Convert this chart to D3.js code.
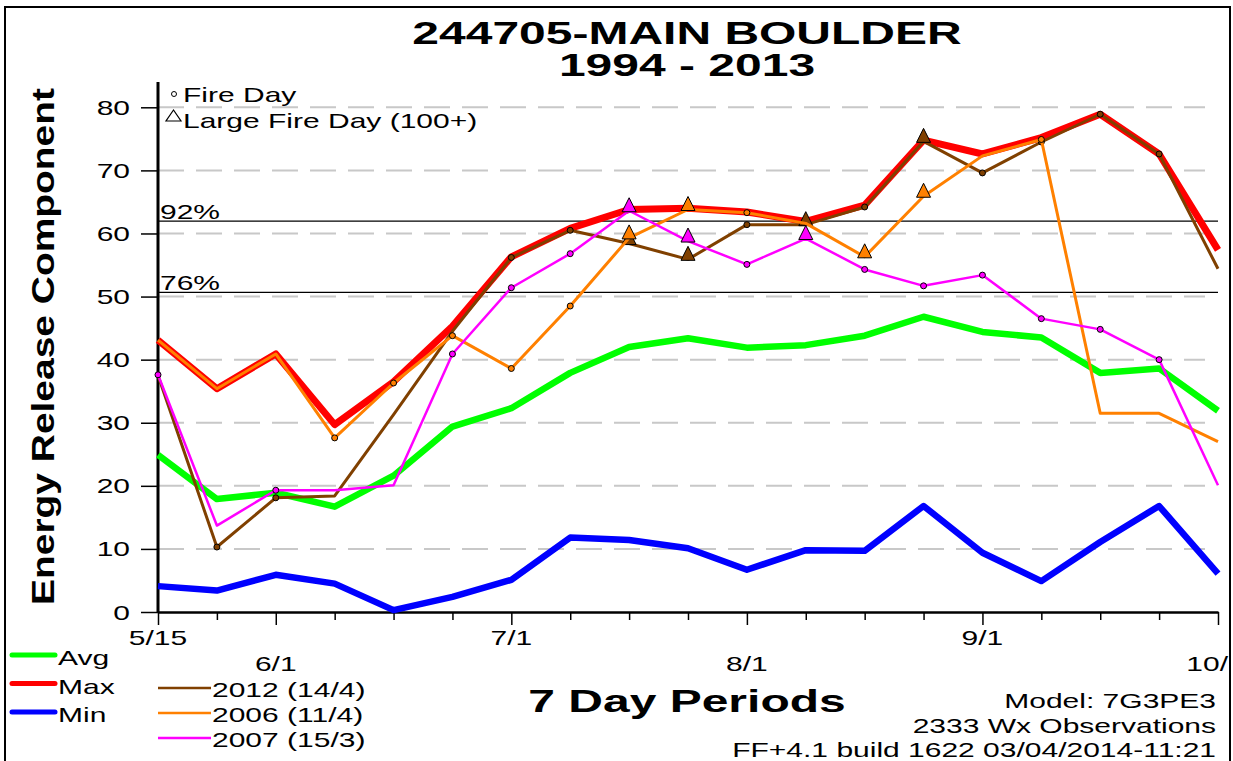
<!DOCTYPE html>
<html>
<head>
<meta charset="utf-8">
<script src="https://cdn.jsdelivr.net/npm/d3@7"></script>
<style>
  body { margin: 0; background: #fff; }
  svg { display: block; font-family: "Liberation Sans", Arial, sans-serif; }
</style>
</head>
<body>
<div class="chart"></div>
<script>
const width = 1233;
const height = 761;

// weekly periods, 5/15 .. 10/1
const periods = d3.range(19);
const monthLabels = [
  {i: 0, label: "5/15", row: 0},
  {i: 2, label: "6/1", row: 1},
  {i: 6, label: "7/1", row: 0},
  {i: 10, label: "8/1", row: 1},
  {i: 14, label: "9/1", row: 0},
  {i: 18, label: "10/", row: 1}
];
const yTicks = [0, 10, 20, 30, 40, 50, 60, 70, 80];

const avgVals = [24.9, 17.9, 18.9, 16.7, 21.6, 29.4, 32.3, 37.9, 42.0, 43.4, 41.9, 42.3, 43.8, 46.8, 44.4, 43.5, 37.9, 38.6, 31.9];
const maxVals = [43.1, 35.4, 40.9, 29.7, 36.5, 45.3, 56.3, 60.8, 63.8, 64.0, 63.4, 61.9, 64.5, 74.8, 72.6, 75.2, 78.9, 72.6, 57.4];
const minVals = [4.1, 3.4, 5.9, 4.5, 0.3, 2.4, 5.1, 11.8, 11.4, 10.1, 6.7, 9.8, 9.7, 16.8, 9.4, 4.9, 11.1, 16.8, 6.1];

const y2012 = [37.5, 10.3, 18.1, 18.4, 31.3, 44.5, 56.2, 60.5, 58.4, 55.9, 61.4, 61.4, 64.2, 74.6, 69.6, 74.5, 78.9, 72.6, 54.4];
const y2006 = [43.1, 35.4, 40.9, 27.6, 36.3, 43.8, 38.6, 48.5, 59.3, 63.8, 63.3, 61.6, 56.3, 65.9, 72.3, 74.9, 31.5, 31.5, 27.0];
const y2007 = [37.6, 13.7, 19.3, 19.3, 20.1, 40.9, 51.4, 56.8, 63.6, 58.8, 55.1, 59.2, 54.3, 51.7, 53.4, 46.5, 44.8, 40.0, 20.1];

// fire day / large fire day weeks (index into periods)
const fire2012 = [1, 2, 6, 7, 10, 12, 14, 15, 16, 17];
const large2012 = [8, 9, 11, 13];
const fire2006 = [3, 4, 5, 6, 7, 10, 15];
const large2006 = [8, 9, 12, 13];
const fire2007 = [0, 2, 5, 6, 7, 10, 12, 13, 14, 15, 16, 17];
const large2007 = [8, 9, 11];

const percentiles = [{label: "92%", value: 61.97}, {label: "76%", value: 50.67}];

const SX = 1.5; // text in the original is drawn wide

const svg = d3.select(".chart")
    .append("svg")
    .attr("width", width)
    .attr("height", height);

const x = d3.scalePoint().domain(periods).range([158, 1218]);
const y = d3.scaleLinear().domain([0, 80]).range([612, 107.3]);

function stext(g, px, py, str, size, anchor, weight) {
    return g.append("text")
        .attr("transform", `translate(${px},${py}) scale(${SX},1)`)
        .attr("text-anchor", anchor || "start")
        .style("font-size", size + "px")
        .style("font-weight", weight || "normal")
        .attr("fill", "#000")
        .text(str);
}

// frame
svg.append("rect")
    .attr("x", 5).attr("y", 7)
    .attr("width", 1225).attr("height", 770)
    .attr("fill", "none").attr("stroke", "#000").attr("stroke-width", 2);

// titles
stext(svg, 687, 44, "244705-MAIN BOULDER", 32, "middle", "bold");
stext(svg, 687, 76, "1994 - 2013", 32, "middle", "bold");

// grid
svg.append("g")
    .selectAll("line")
    .data(yTicks.filter(d => d > 0))
    .join("line")
    .attr("x1", x(0)).attr("x2", 1205)
    .attr("y1", d => y(d)).attr("y2", d => y(d))
    .attr("stroke", "#c8c8c8")
    .attr("stroke-width", 2)
    .attr("stroke-dasharray", "26,12");

// percentile lines
const pg = svg.append("g");
pg.selectAll("line")
    .data(percentiles)
    .join("line")
    .attr("x1", x(0)).attr("x2", x(18))
    .attr("y1", d => y(d.value)).attr("y2", d => y(d.value))
    .attr("stroke", "#000").attr("stroke-width", 1.2);
percentiles.forEach(p => stext(pg, 160, y(p.value) - 2, p.label, 20, "start"));

// y axis
const yAxis = svg.append("g")
    .attr("transform", `translate(${x(0)},0)`)
    .call(d3.axisLeft(y).tickValues(yTicks).tickSize(17).tickSizeOuter(0));
yAxis.select(".domain").remove();
yAxis.selectAll(".tick line").attr("stroke", "#000").attr("stroke-width", 1.5);
yAxis.selectAll(".tick text")
    .attr("x", -28 / SX)
    .attr("dy", "0.35em")
    .attr("transform", `scale(${SX},1)`)
    .style("font-size", "20px")
    .style("font-family", "'Liberation Sans', Arial, sans-serif")
    .attr("fill", "#000");
svg.append("line")
    .attr("x1", x(0)).attr("x2", x(0))
    .attr("y1", 82).attr("y2", y(0) + 1)
    .attr("stroke", "#000").attr("stroke-width", 3);

// x axis
const xAxis = svg.append("g")
    .attr("transform", `translate(0,${y(0)})`)
    .call(d3.axisBottom(x).tickSize(8).tickFormat("").tickSizeOuter(0));
xAxis.select(".domain").attr("stroke", "#000").attr("stroke-width", 2.5);
xAxis.selectAll(".tick line")
    .attr("stroke", "#000").attr("stroke-width", 1.5)
    .attr("y2", d => monthLabels.some(m => m.i === d) ? 13 : 8);

monthLabels.forEach(m => {
    const last = m.i === periods.length - 1;
    stext(svg, last ? 1228 : x(m.i), m.row === 0 ? 645 : 671, m.label, 20, last ? "end" : "middle");
});

// y title
svg.append("text")
    .attr("transform", "translate(54,346.5) rotate(-90)")
    .attr("text-anchor", "middle")
    .attr("textLength", 517)
    .attr("lengthAdjust", "spacingAndGlyphs")
    .style("font-size", "32px")
    .style("font-weight", "bold")
    .text("Energy Release Component");

// x title
stext(svg, 687, 712, "7 Day Periods", 32, "middle", "bold");

// series
const line = d3.line()
    .x((d, i) => x(i))
    .y(d => y(d));

const summary = [
    {name: "Avg", vals: avgVals, color: "#00ff00", w: 6.5},
    {name: "Max", vals: maxVals, color: "#ff0000", w: 7},
    {name: "Min", vals: minVals, color: "#0000ff", w: 6.5}
];
const years = [
    {name: "2012 (14/4)", vals: y2012, color: "#804000", w: 3, fire: fire2012, large: large2012},
    {name: "2006 (11/4)", vals: y2006, color: "#ff8000", w: 3, fire: fire2006, large: large2006},
    {name: "2007 (15/3)", vals: y2007, color: "#ff00ff", w: 2.5, fire: fire2007, large: large2007}
];

svg.append("g")
    .selectAll("path")
    .data(summary)
    .join("path")
    .attr("d", d => line(d.vals))
    .attr("fill", "none")
    .attr("stroke", d => d.color)
    .attr("stroke-width", d => d.w)
    .attr("stroke-linejoin", "round");

const tri = (cx, cy) => `M${cx - 7},${cy + 1}L${cx + 7},${cy + 1}L${cx},${cy - 13}Z`;

years.forEach(s => {
    const g = svg.append("g");
    g.append("path")
        .attr("d", line(s.vals))
        .attr("fill", "none")
        .attr("stroke", s.color)
        .attr("stroke-width", s.w)
        .attr("stroke-linejoin", "round");
    g.selectAll("circle")
        .data(s.fire)
        .join("circle")
        .attr("cx", i => x(i))
        .attr("cy", i => y(s.vals[i]))
        .attr("r", 3)
        .attr("fill", s.color)
        .attr("stroke", "#000")
        .attr("stroke-width", 1);
    g.selectAll("path.tri")
        .data(s.large)
        .join("path")
        .attr("class", "tri")
        .attr("d", i => tri(x(i), y(s.vals[i])))
        .attr("fill", s.color)
        .attr("stroke", "#000")
        .attr("stroke-width", 1);
});

// marker legend (top left)
const ml = svg.append("g");
ml.append("circle").attr("cx", 174).attr("cy", 94).attr("r", 2.5)
    .attr("fill", "#fff").attr("stroke", "#000").attr("stroke-width", 1);
stext(ml, 183, 102, "Fire Day", 20, "start");
ml.append("path").attr("d", "M166,121L181,121L173.5,110Z")
    .attr("fill", "#fff").attr("stroke", "#000").attr("stroke-width", 1.2);
stext(ml, 183, 128, "Large Fire Day (100+)", 20, "start");

// series legend (bottom left)
const lg = svg.append("g");
summary.forEach((s, k) => {
    const by = 665 + k * 28.5;
    lg.append("line")
        .attr("x1", 12).attr("x2", 55)
        .attr("y1", by - 10).attr("y2", by - 10)
        .attr("stroke", s.color).attr("stroke-width", 5)
        .attr("stroke-linecap", "round");
    stext(lg, 58, by, s.name, 20, "start");
});
years.forEach((s, k) => {
    const by = 697 + k * 25;
    lg.append("line")
        .attr("x1", 158).attr("x2", 211)
        .attr("y1", by - 9).attr("y2", by - 9)
        .attr("stroke", s.color).attr("stroke-width", 2.5);
    stext(lg, 212, by, s.name, 20, "start");
});

// run info (bottom right)
const info = ["Model: 7G3PE3", "2333 Wx Observations", "FF+4.1 build 1622 03/04/2014-11:21"];
info.forEach((t, k) => stext(svg, 1216, 708 + k * 24.5, t, 20, "end"));
</script>
</body>
</html>
